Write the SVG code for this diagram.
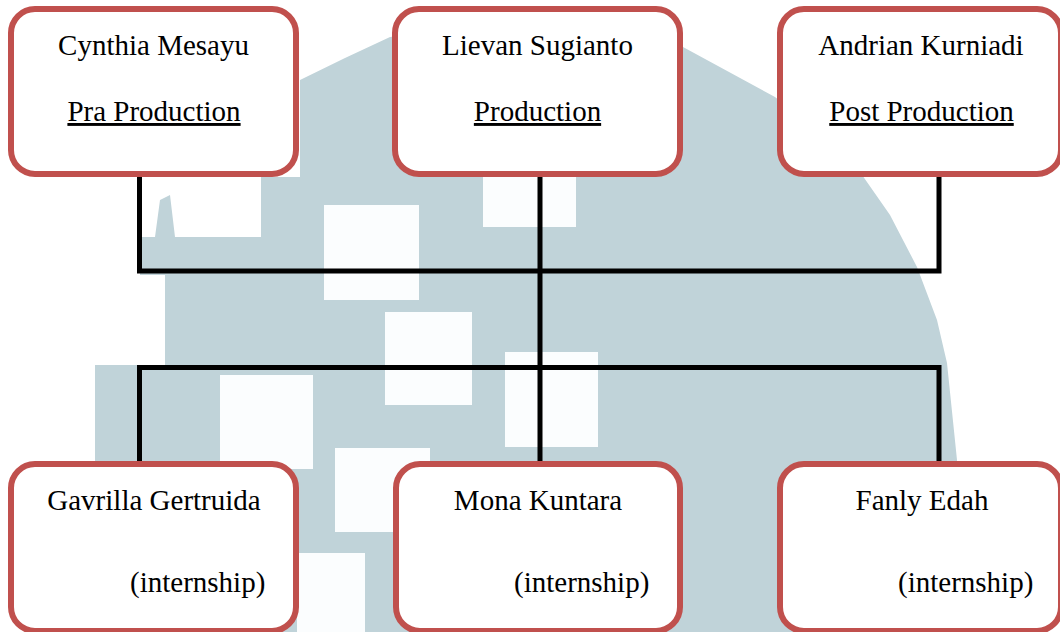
<svg xmlns="http://www.w3.org/2000/svg" width="1060" height="632" viewBox="0 0 1060 632">
  <style>
    .box { fill: #ffffff; stroke: #c0504d; stroke-width: 6; }
    .lbl { font-family: "Liberation Serif", "Times New Roman", serif; font-size: 29px; fill: #000000; }
    .mid { text-anchor: middle; }
    .ul { text-decoration: underline; }
    .conn { fill: none; stroke: #000000; stroke-width: 5; stroke-linejoin: miter; stroke-linecap: butt; }
    .wm { fill: #c0d3d9; }
    .sq { fill: #fbfdfe; }
  </style>
  <rect x="0" y="0" width="1060" height="632" fill="#ffffff"/>
  <g id="watermark">
    <path class="wm" d="M 300,80 L 345,58 L 390,37 L 540,18 L 683,47 L 775,97 L 830,140 L 860,172 L 890,215 L 917,267 L 937,320 L 947,363 L 957,460 L 957,632 L 95,632 L 95,365 L 165,365 L 165,275 L 140,275 L 140,237 L 155,237 L 160,200 L 170,195 L 175,237 L 261,237 L 261,177 L 300,177 Z"/>
    <rect class="sq" x="324" y="205" width="95" height="95"/>
    <rect class="sq" x="483" y="170" width="93" height="57"/>
    <rect class="sq" x="385" y="312" width="87" height="93"/>
    <rect class="sq" x="505" y="352" width="93" height="95"/>
    <rect class="sq" x="220" y="375" width="93" height="94"/>
    <rect class="sq" x="335" y="448" width="95" height="84"/>
    <rect class="sq" x="297" y="553" width="68" height="79"/>
  </g>
  <g id="connectors">
    <polyline class="conn" points="139.5,177 139.5,271 939,271 939,177"/>
    <line class="conn" x1="540" y1="177" x2="540" y2="464"/>
    <polyline class="conn" points="139.5,464 139.5,367.5 939,367.5 939,464"/>
  </g>
  <g id="node-cynthia">
    <rect class="box" x="11" y="9" width="285" height="165" rx="24" ry="24"/>
    <text class="lbl mid" x="153.5" y="55">Cynthia Mesayu</text>
    <text class="lbl mid ul" x="154" y="121">Pra Production</text>
  </g>
  <g id="node-lievan">
    <rect class="box" x="395" y="9" width="285" height="165" rx="24" ry="24"/>
    <text class="lbl mid" x="537.5" y="55">Lievan Sugianto</text>
    <text class="lbl mid ul" x="537.5" y="121">Production</text>
  </g>
  <g id="node-andrian">
    <rect class="box" x="780" y="9" width="281" height="165" rx="24" ry="24"/>
    <text class="lbl mid" x="921" y="55">Andrian Kurniadi</text>
    <text class="lbl mid ul" x="921.5" y="121">Post Production</text>
  </g>
  <g id="node-gavrilla">
    <rect class="box" x="11" y="464" width="285" height="167" rx="24" ry="24"/>
    <text class="lbl mid" x="154" y="510">Gavrilla Gertruida</text>
    <text class="lbl" x="130" y="592">(internship)</text>
  </g>
  <g id="node-mona">
    <rect class="box" x="396" y="464" width="284" height="167" rx="24" ry="24"/>
    <text class="lbl mid" x="538" y="510">Mona Kuntara</text>
    <text class="lbl" x="514" y="592">(internship)</text>
  </g>
  <g id="node-fanly">
    <rect class="box" x="780" y="464" width="281" height="167" rx="24" ry="24"/>
    <text class="lbl mid" x="922" y="510">Fanly Edah</text>
    <text class="lbl" x="898" y="592">(internship)</text>
  </g>
</svg>
